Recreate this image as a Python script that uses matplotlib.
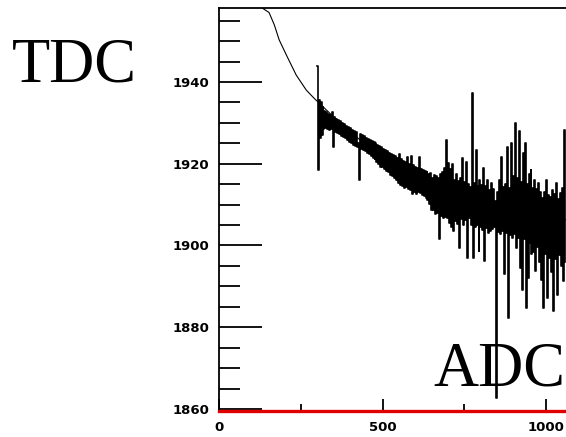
import matplotlib
matplotlib.use("Agg")
import matplotlib.pyplot as plt
from matplotlib.ticker import MultipleLocator, FixedLocator

# ---- data ----
fit_adc = [132, 153, 169, 184, 206, 236, 267, 291, 350, 400, 450, 500, 550, 600,
           650, 700, 750, 800, 850, 900, 950, 1000, 1061]
fit_tdc = [1958.1, 1957.0, 1954.0, 1950.3, 1946.6, 1941.7, 1938.0, 1936.0, 1931.5,
           1928.0, 1924.5, 1921.0, 1918.5, 1916.5, 1914.5, 1913.0, 1911.5, 1910.3,
           1909.3, 1908.4, 1907.6, 1907.0, 1906.3]

adc_start, adc_step = 300, 3
tdc_noisy = [
    1944.0, 1918.4, 1935.6, 1926.2, 1935.0, 1927.0, 1933.8, 1928.4, 1933.0, 1928.8,
    1932.6, 1928.6, 1932.2, 1928.2, 1932.0, 1928.4, 1932.6, 1924.2, 1931.4, 1927.8,
    1931.0, 1927.6, 1930.8, 1927.2, 1930.4, 1926.9, 1930.0, 1926.6, 1929.8, 1926.2,
    1929.3, 1925.9, 1929.1, 1925.3, 1928.7, 1925.1, 1928.3, 1924.7, 1928.1, 1924.3,
    1927.7, 1924.1, 1925.0, 1916.0, 1927.3, 1923.7, 1927.1, 1923.3, 1926.7, 1923.1,
    1926.3, 1922.7, 1926.1, 1922.3, 1925.9, 1921.9, 1925.5, 1921.5, 1925.3, 1921.1,
    1925.1, 1920.3, 1924.7, 1919.9, 1924.3, 1919.3, 1924.1, 1919.1, 1923.7, 1918.7,
    1923.3, 1918.1, 1923.1, 1917.9, 1922.7, 1917.3, 1922.5, 1917.1, 1922.1, 1916.5,
    1921.9, 1915.9, 1921.5, 1915.3, 1922.4, 1914.9, 1921.1, 1914.5, 1920.7, 1914.1,
    1920.4, 1914.2, 1921.6, 1913.8, 1920.0, 1913.6, 1922.0, 1912.6, 1919.6, 1913.2,
    1919.2, 1912.7, 1919.0, 1913.0, 1921.6, 1912.8, 1918.6, 1912.4, 1918.4, 1912.0,
    1918.2, 1911.6, 1918.0, 1911.2, 1917.6, 1910.2, 1917.8, 1908.8, 1916.6, 1908.6,
    1917.2, 1907.6, 1917.0, 1908.0, 1916.6, 1901.7, 1917.4, 1907.2, 1918.0, 1906.8,
    1919.0, 1907.0, 1925.7, 1906.6, 1920.2, 1905.6, 1918.8, 1904.4, 1920.0, 1903.6,
    1916.0, 1906.0, 1917.4, 1905.2, 1915.8, 1899.5, 1916.6, 1906.4, 1921.4, 1905.0,
    1915.6, 1906.2, 1920.3, 1897.0, 1915.0, 1906.8, 1914.2, 1905.0, 1937.3, 1897.0,
    1915.2, 1904.4, 1923.3, 1905.0, 1914.6, 1898.7, 1916.0, 1904.6, 1914.8, 1903.8,
    1919.0, 1896.3, 1914.6, 1904.2, 1916.0, 1903.0, 1913.6, 1903.6, 1915.2, 1904.0,
    1913.8, 1904.6, 1911.0, 1862.6, 1913.0, 1903.4, 1916.0, 1902.8, 1921.6, 1903.6,
    1914.2, 1893.0, 1915.0, 1903.0, 1924.0, 1882.3, 1914.0, 1902.6, 1925.0, 1901.8,
    1917.0, 1902.9, 1930.0, 1899.5, 1916.4, 1901.8, 1928.0, 1894.5, 1915.6, 1889.0,
    1922.6, 1901.6, 1925.0, 1884.7, 1915.0, 1892.0, 1917.6, 1900.6, 1918.4, 1898.0,
    1914.0, 1898.4, 1916.0, 1893.8, 1913.8, 1899.6, 1915.4, 1896.0, 1913.2, 1891.6,
    1911.7, 1884.7, 1913.0, 1897.8, 1916.0, 1887.2, 1912.4, 1897.0, 1911.8, 1893.4,
    1913.5, 1884.0, 1912.6, 1896.8, 1915.2, 1888.0, 1911.4, 1897.6, 1912.8, 1895.0,
    1914.0, 1891.4, 1928.2, 1896.0,
]
adc_noisy = [adc_start + adc_step * i for i in range(len(tdc_noisy))]

y_major = [1860, 1880, 1900, 1920, 1940]
x_major = [0, 500, 1000]
x_minor = [250, 750]

# ---- figure ----
fig = plt.figure(figsize=(5.66, 4.37), dpi=100)
ax = fig.add_axes([219 / 566, 26 / 437, 1 - 219 / 566, (411 - 8) / 437])

ax.plot(fit_adc, fit_tdc, color="black", lw=0.8, zorder=2)
ax.plot(adc_noisy, tdc_noisy, color="black", lw=1.2, drawstyle="steps-mid", zorder=3)

ax.set_xlim(0, 1061)
ax.set_ylim(1859.5, 1958.1)

ax.yaxis.set_major_locator(FixedLocator(y_major))
ax.yaxis.set_minor_locator(MultipleLocator(5))
ax.xaxis.set_major_locator(FixedLocator(x_major))
ax.xaxis.set_minor_locator(FixedLocator(x_minor))

ax.tick_params(axis="y", which="major", direction="in", length=31, width=1.3, pad=7,
               labelsize=9.5)
ax.tick_params(axis="y", which="minor", direction="in", length=15, width=1.3)
ax.tick_params(axis="x", which="major", direction="in", length=9, width=1.3, pad=7,
               labelsize=9.5)
ax.tick_params(axis="x", which="minor", direction="in", length=5, width=1.3)
for lab in ax.get_xticklabels() + ax.get_yticklabels():
    lab.set_fontweight("bold")

ax.spines["right"].set_visible(False)
ax.spines["left"].set_linewidth(1.3)
ax.spines["top"].set_linewidth(1.3)
ax.spines["bottom"].set_color("#e00000")
ax.spines["bottom"].set_linewidth(2.4)

fig.text(12 / 566, 1 - 82 / 437, "TDC", family="Liberation Serif", fontsize=45,
         ha="left", va="baseline")
fig.text(433 / 566, 1 - 385 / 437, "ADC", family="Liberation Serif", fontsize=45,
         ha="left", va="baseline", zorder=1)

fig.savefig("out.png", dpi=100)
